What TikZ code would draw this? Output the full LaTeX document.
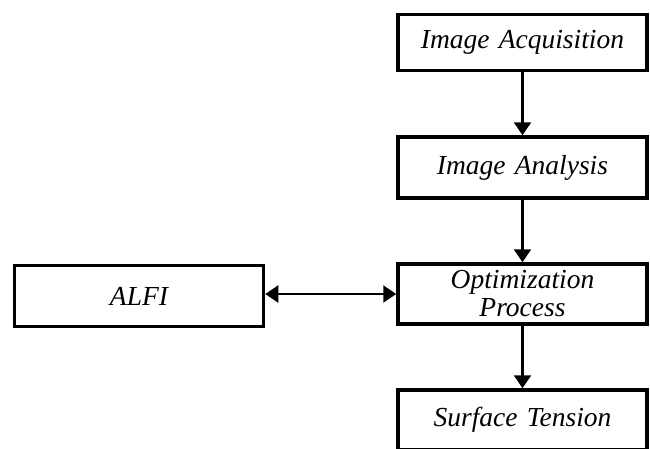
\documentclass[tikz,border=0pt]{standalone}
\usepackage{fontspec}
\setmainfont{Liberation Serif}
\usetikzlibrary{arrows.meta}

\begin{document}
\begin{tikzpicture}[x=1pt,y=-1pt]
        \useasboundingbox (0,0) rectangle (650,448);
        \begin{scope}[every node/.style={rectangle,draw=black,line width=3.5pt,
                      minimum width=249pt,text width=240pt,align=center,
                      font=\fontsize{27.5}{31}\selectfont\itshape}]
            \node (acq) [minimum height=56pt] at (522.5, 42.5) {Image Acquisition};
            \node (ana) [minimum height=61pt] at (522.5, 167.5) {Image Analysis};
            \node (opt) [minimum height=60pt] at (522.5, 294) {Optimization\\[-3pt]Process};
            \node (st) [minimum height=60pt] at (522.5, 420) {Surface Tension};
            \node (alfi) [minimum height=61pt] at (139, 296) {ALFI};
        \end{scope}

        \begin{scope}[every edge/.style={draw=black,line width=2.2pt},
                      >={Triangle[width=17pt,length=13pt]}]
            \path [->] (acq) edge (ana);
            \path [->] (ana) edge (opt);
            \path [->] (opt) edge (st);
            \path [<->] (alfi.east |- opt.west) edge (opt.west);
        \end{scope}
    \end{tikzpicture}
\end{document}
